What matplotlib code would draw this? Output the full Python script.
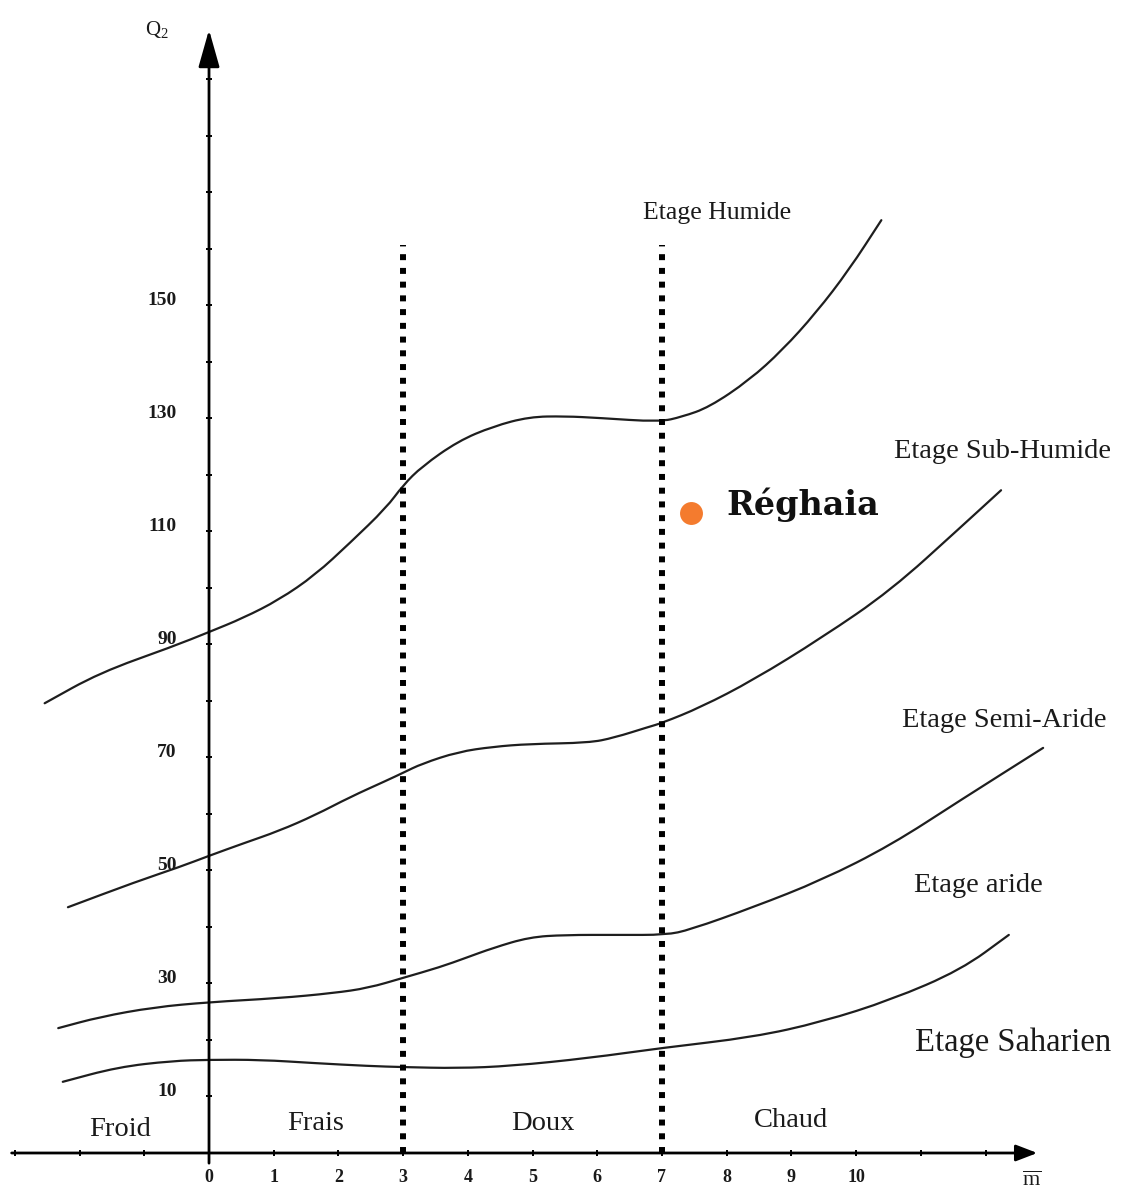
import matplotlib.pyplot as plt
from matplotlib.path import Path
from matplotlib.patches import PathPatch

# Emberger climagram: Q2 against m (mean minimum of the coldest month)
m_ticks = list(range(0, 11))
m_marks = list(range(-3, 13))
q2_labels = [10, 30, 50, 70, 90, 110, 130, 150]
q2_marks = list(range(10, 200, 10))

# boundaries between the bioclimatic stages
humide_m = [-2.54, -1.69, -0.57, 0, 0.53, 1.08, 1.64, 2.18, 2.74, 3.0, 3.29, 3.85,
            4.39, 4.95, 5.5, 6.03, 6.96, 7.31, 7.73, 8.35, 8.86, 9.38, 9.89, 10.39]
humide_q = [79.6, 85.0, 89.6, 92.2, 94.7, 97.9, 102.3, 108.0, 114.2, 118.2, 121.5, 126.0,
            128.6, 130.3, 130.4, 130.1, 129.4, 130.3, 132.0, 136.8, 142.1, 148.7, 156.3, 165.1]

subhum_m = [-2.18, -1.13, -0.46, 0, 0.53, 1.08, 1.64, 2.18, 2.74, 3.0, 3.29, 3.85,
            4.39, 4.95, 5.87, 6.26, 6.79, 7.0, 7.6, 8.41, 9.47, 10.54, 11.62, 12.24]
subhum_q = [43.5, 48.0, 50.6, 52.6, 54.8, 57.0, 59.8, 63.0, 65.9, 67.3, 68.9, 71.0,
            71.9, 72.4, 72.6, 73.5, 75.4, 76.1, 78.9, 83.7, 91.2, 99.6, 110.8, 117.3]

semiar_m = [-2.33, -1.68, -0.85, 0, 1.08, 1.92, 2.46, 3.0, 3.57, 3.96, 4.39, 4.95,
            5.5, 6.34, 7.06, 7.43, 8.41, 9.47, 10.54, 11.62, 12.89]
semiar_q = [22.1, 24.1, 25.8, 26.7, 27.4, 28.3, 29.2, 31.0, 32.9, 34.5, 36.3, 38.2,
            38.6, 38.6, 38.6, 39.5, 43.5, 48.3, 54.5, 62.5, 71.7]

aride_m = [-2.26, -1.41, -0.57, 0, 0.8, 1.64, 2.46, 3.0, 3.85, 4.67, 5.87, 7.0,
           8.41, 9.47, 10.54, 11.62, 12.36]
aride_q = [12.6, 15.2, 16.3, 16.5, 16.5, 15.9, 15.4, 15.2, 15.0, 15.4, 16.8, 18.6,
           20.5, 23.2, 27.1, 32.4, 38.6]

# winter variants limits (m = 3 and m = 7)
zone_limits = [3, 7]
zone_top = 160.7
zone_names = ["Froid", "Frais", "Doux", "Chaud"]
zone_pos = [(-1.38, 4.1), (1.64, 5.3), (5.16, 5.3), (9.0, 5.8)]

stage_names = ["Etage Humide", "Etage Sub-Humide", "Etage Semi-Aride",
               "Etage aride", "Etage Saharien"]
stage_pos = [(7.85, 166.4), (12.27, 124.1), (12.29, 76.5), (11.89, 47.4), (12.43, 19.6)]
stage_size = [18.5, 20.5, 20.5, 20.5, 23.5]

station = "Réghaia"
station_m = 7.45
station_q = 113.2

serif = "Liberation Serif"
ink = "#1a1a1a"


def smooth_path(xs, ys):
    # quadratic bezier through the midpoints, read points used as controls
    pts = list(zip(xs, ys))
    verts = [pts[0]]
    codes = [Path.MOVETO]
    mid = lambda a, b: ((a[0] + b[0]) / 2, (a[1] + b[1]) / 2)
    verts.append(mid(pts[0], pts[1]))
    codes.append(Path.LINETO)
    for i in range(1, len(pts) - 1):
        verts += [pts[i], mid(pts[i], pts[i + 1])]
        codes += [Path.CURVE3, Path.CURVE3]
    verts.append(pts[-1])
    codes.append(Path.LINETO)
    return Path(verts, codes)


fig = plt.figure(figsize=(11.24, 11.93), dpi=100)
ax = fig.add_axes([0, 0, 1, 1])
ax.set_xlim(-3.23, 14.14)
ax.set_ylim(-7.08, 204.07)
ax.axis("off")

# axes with arrows
ax.annotate("", xy=(12.8, 0), xytext=(-3.05, 0),
            arrowprops=dict(arrowstyle="-|>,head_length=1.3,head_width=0.5",
                            lw=2, color="black", shrinkA=0, shrinkB=0))
ax.annotate("", xy=(0, 198.8), xytext=(0, -1.8),
            arrowprops=dict(arrowstyle="-|>,head_length=2.3,head_width=0.65",
                            lw=2, color="black", shrinkA=0, shrinkB=0))
ax.plot(m_marks, [0] * len(m_marks), ls="none", marker="|", ms=5, mew=1.4, color="black")
ax.plot([0] * len(q2_marks), q2_marks, ls="none", marker="_", ms=5, mew=1.4, color="black")

for m in m_ticks:
    ax.text(m, -4.3, str(m), ha="center", va="center", fontsize=13,
            fontweight="bold", family=serif, color=ink)
for q in q2_labels:
    ax.text(-0.5, q + 0.8, str(q), ha="right", va="center", fontsize=14,
            fontweight="bold", family=serif, color=ink)

ax.text(-0.8, 198.8, r"Q$_{\mathregular{2}}$", ha="center", va="center",
        fontsize=15, family=serif, color=ink)
ax.text(12.72, -5.1, r"$\overline{\mathregular{m}}$", ha="center", va="center",
        fontsize=16, family=serif, color=ink)

# dotted limits
for x in zone_limits:
    ax.plot([x, x], [0, zone_top], color="black", lw=4.3,
            ls=(0, (1, 1.3)), dash_capstyle="butt")

# stage boundaries
for xs, ys in [(humide_m, humide_q), (subhum_m, subhum_q),
               (semiar_m, semiar_q), (aride_m, aride_q)]:
    ax.add_patch(PathPatch(smooth_path(xs, ys), fill=False, edgecolor="#1e1e1e",
                           lw=1.6, capstyle="round"))

for name, (x, y) in zip(zone_names, zone_pos):
    ax.text(x, y, name, ha="center", va="center", fontsize=20.5, family=serif,
            color=ink)
for name, (x, y), fs in zip(stage_names, stage_pos, stage_size):
    ax.text(x, y, name, ha="center", va="center", fontsize=fs, family=serif,
            color=ink)

ax.plot([station_m], [station_q], "o", ms=16.5, color="#f47b2e", mec="none")
ax.text(station_m + 0.55, station_q + 1.5, station, ha="left", va="center",
        fontsize=24, fontweight="bold", family="DejaVu Serif", color="#111111")

fig.savefig("out.png", dpi=100)
